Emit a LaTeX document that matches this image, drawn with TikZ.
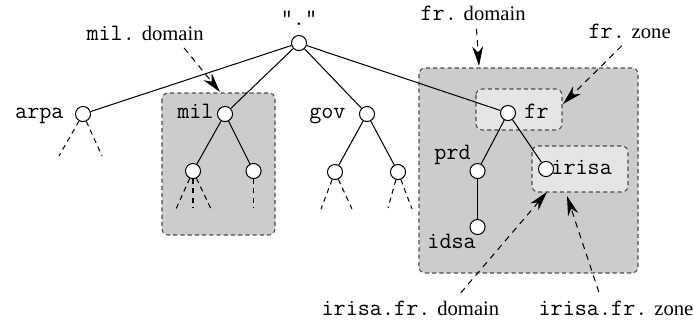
\documentclass[tikz,border=0pt]{standalone}
\usepackage{fontspec}
\setmainfont{Liberation Serif}
\newfontfamily\codefont{Latin Modern Mono}[Scale=1.14]
\usetikzlibrary{arrows.meta}

\newcommand{\code}[1]{{\codefont #1}}

\begin{document}
\begin{tikzpicture}[x=0.485pt,y=-0.485pt]
        \tikzset{
            dot/.style={circle, draw, fill=white, inner sep=0pt, minimum size=7.3pt, line width=0.5pt},
            tag/.style={font=\codefont, inner sep=0pt},
            note/.style={inner sep=2pt},
            zonebox/.style={draw=black!70, line width=0.5pt, dash pattern=on 2pt off 1.5pt, rounded corners=3pt},
            stub/.style={line width=0.5pt, dash pattern=on 2.5pt off 2pt},
            pointer/.style={line width=0.5pt, dash pattern=on 3pt off 2.5pt, shorten <=2pt,
                -{Stealth[length=9.5pt, width=5.2pt, inset=3pt]}}
        }
        \useasboundingbox (0,0) rectangle (693,322);

        % domains and zones
        \coordinate (milnw) at (162,93);
        \coordinate (milse) at (275,235);
        \coordinate (frnw) at (419,68);
        \coordinate (frse) at (638,273);
        \coordinate (frznw) at (476,89);
        \coordinate (frzse) at (562,130);
        \coordinate (irnw) at (532,146);
        \coordinate (irse) at (628,192);
        \draw[zonebox, fill=black!20] (milnw) rectangle (milse);
        \draw[zonebox, fill=black!20] (frnw) rectangle (frse);
        \draw[zonebox, fill=black!10] (frznw) rectangle (frzse);
        \draw[zonebox, fill=black!10] (irnw) rectangle (irse);

        % tree
        \node[dot] (root) at (299,43) {};
        \node[dot] (arpa) at (83,114) {};
        \node[dot] (mil) at (225,114) {};
        \node[dot] (gov) at (367,114) {};
        \node[dot] (fr) at (508,113) {};
        \node[dot] (mil1) at (193,171) {};
        \node[dot] (mil2) at (253.5,171) {};
        \node[dot] (gov1) at (335,172) {};
        \node[dot] (gov2) at (398,172) {};
        \node[dot] (prd) at (477.5,171) {};
        \node[dot] (irisa) at (546,169) {};
        \node[dot] (idsa) at (477.5,227) {};

        \node[tag, anchor=base] (roottxt) at (299,25) {"."};
        \node[tag, anchor=base east] (arpatxt) at (64,118) {arpa};
        \node[tag, anchor=base east] (miltxt) at (214,118) {mil};
        \node[tag, anchor=base east] (govtxt) at (346,118) {gov};
        \node[tag, anchor=base west] (frtxt) at (524,118) {fr};
        \node[tag, anchor=base west] (prdtxt) at (434,159) {prd};
        \node[tag, anchor=base west] (irisatxt) at (551,174) {irisa};
        \node[tag, anchor=base west] (idsatxt) at (427,248) {idsa};

        \begin{scope}[line width=0.5pt]
            \draw (root) -- (arpa);
            \draw (root) -- (mil);
            \draw (root) -- (gov);
            \draw (root) -- (fr);
            \draw (mil) -- (mil1);
            \draw (mil) -- (mil2);
            \draw (gov) -- (gov1);
            \draw (gov) -- (gov2);
            \draw (fr) -- (prd);
            \draw (fr) -- (irisa);
            \draw (prd) -- (idsa);
        \end{scope}

        % unexpanded subtrees
        \coordinate (arpaa) at (59,156);
        \coordinate (arpab) at (102,156);
        \coordinate (mil1a) at (176,209);
        \coordinate (mil1b) at (193,208);
        \coordinate (mil1c) at (211,209);
        \coordinate (mil2a) at (253.5,208);
        \coordinate (gov1a) at (321,209);
        \coordinate (gov1b) at (352,209);
        \coordinate (gov2a) at (388,208);
        \coordinate (gov2b) at (412,209);
        \begin{scope}[stub]
            \draw (arpa) -- (arpaa);
            \draw (arpa) -- (arpab);
            \draw (mil1) -- (mil1a);
            \draw (mil1) -- (mil1b);
            \draw (mil1) -- (mil1c);
            \draw (mil2) -- (mil2a);
            \draw (gov1) -- (gov1a);
            \draw (gov1) -- (gov1b);
            \draw (gov2) -- (gov2a);
            \draw (gov2) -- (gov2b);
        \end{scope}

        % pointers
        \node[note, anchor=base west] (mildomtxt) at (82,40) {\code{mil.} domain};
        \node[note, anchor=base west] (frdomtxt) at (416,20) {\code{fr.} domain};
        \node[note, anchor=base west] (frzonetxt) at (584,38) {\code{fr.} zone};
        \node[note, anchor=base west] (irdomtxt) at (317,315) {\code{irisa.fr.} domain};
        \node[note, anchor=base west] (irzonetxt) at (534,315) {\code{irisa.fr.} zone};

        \coordinate (mildomtip) at (220,92);
        \coordinate (frdomtip) at (479,66);
        \coordinate (frzonetip) at (563,104);
        \coordinate (irdomtip) at (547,192);
        \coordinate (irzonetip) at (567,196);
        \draw[pointer] (mildomtxt.-18) -- (mildomtip);
        \draw[pointer] (frdomtxt.-75) -- (frdomtip);
        \draw[pointer] (frzonetxt.-112) -- (frzonetip);
        \draw[pointer] (irdomtxt.14) -- (irdomtip);
        \draw[pointer] (irzonetxt.143) -- (irzonetip);

\end{tikzpicture}
\end{document}
